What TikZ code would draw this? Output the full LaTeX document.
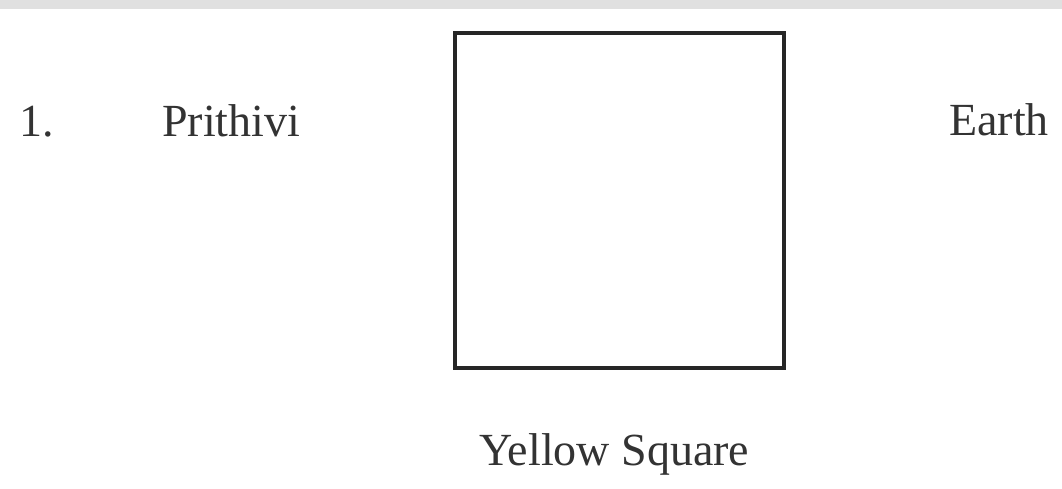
\documentclass[tikz,border=0pt]{standalone}
\usepackage{fontspec}
\setmainfont{Liberation Serif}
\begin{document}
\begin{tikzpicture}[x=1pt,y=-1pt,
  lbl/.style={inner sep=0pt,anchor=base west,font=\fontsize{46}{55}\selectfont,text=black!80},
  sq/.style={draw=black!85,line width=4.5pt}]
\useasboundingbox (0,0) rectangle (1062,489);
\fill[white] (0,0) rectangle (1062,489);
\fill[black!12] (0,0) rectangle (1062,9);
\node[lbl] (num) at (19,137) {1.};
\node[lbl] (prithivi) at (162,137) {Prithivi};
\node[lbl] (earth) at (949,136) {Earth};
\node[sq,minimum width=329pt,minimum height=335pt,inner sep=0pt] (square) at (619.5,200.5) {};
\node[lbl] (caption) at (479,465) {Yellow Square};
\end{tikzpicture}
\end{document}
